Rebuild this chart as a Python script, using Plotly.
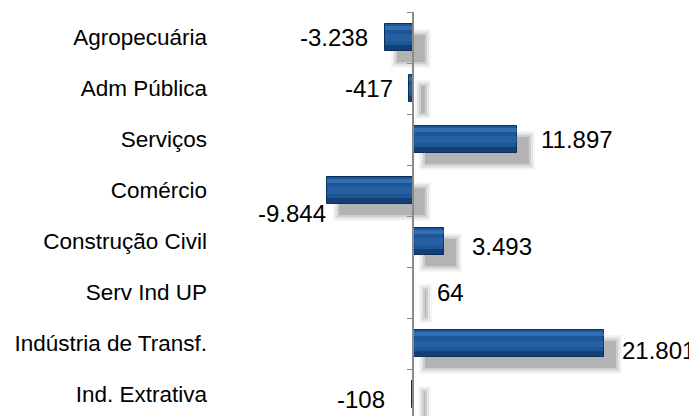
import plotly.graph_objects as go

# ---- data ----
categories = ["Agropecuária", "Adm Pública", "Serviços", "Comércio",
              "Construção Civil", "Serv Ind UP", "Indústria de Transf.", "Ind. Extrativa"]
values = [-3238, -417, 11897, -9844, 3493, 64, 21801, -108]

# ---- style (label offsets in px, not data) ----
label_dx = [-15, -14, 22, 1, 26, 21, 16, -25]
label_dy = [0, 0, 0, -23, -5, 0, -7, -5]

XMIN, XMAX = -23000, 32500
YRANGE = [7.42, -0.5]
BAR_W = 0.53
PLOT_W = 485.0
PX = (XMAX - XMIN) / PLOT_W          # data units per pixel
SH_X = 12 * PX                       # shadow offset (style)
SH_Y = 11 / 51.0

def fmt(v):
    s = f"{abs(v):,}".replace(",", ".")
    return ("-" if v < 0 else "") + s

fig = go.Figure()

# soft, blurred-looking shadow built from stacked translucent layers
for e_px, a in [(6, 0.06), (4, 0.09), (2, 0.13), (0, 0.20)]:
    sgn = [1 if v >= 0 else -1 for v in values]
    ext = e_px * PX
    w = BAR_W + 2 * e_px / 51.0
    fig.add_trace(go.Bar(
        y=categories,
        x=[v + s * 2 * ext for v, s in zip(values, sgn)],
        base=[SH_X - s * ext for s in sgn],
        orientation="h", width=w, offset=-w / 2 + SH_Y,
        marker=dict(color=f"rgba(70,70,70,{a})", line=dict(width=0)),
        hoverinfo="skip", showlegend=False))

# main bars
fig.add_trace(go.Bar(
    y=categories, x=values, orientation="h", width=BAR_W,
    marker=dict(color="#1d5798", line=dict(color="#0c2f5c", width=1)),
    showlegend=False))
# bevel highlights
fig.add_trace(go.Bar(
    y=categories, x=values, orientation="h", width=0.08, offset=-BAR_W / 2 + 0.03,
    marker=dict(color="rgba(80,140,210,0.45)", line=dict(width=0)),
    hoverinfo="skip", showlegend=False))
fig.add_trace(go.Bar(
    y=categories, x=values, orientation="h", width=0.12, offset=-0.06,
    marker=dict(color="rgba(60,120,190,0.30)", line=dict(width=0)),
    hoverinfo="skip", showlegend=False))
fig.add_trace(go.Bar(
    y=categories, x=values, orientation="h", width=0.09, offset=BAR_W / 2 - 0.11,
    marker=dict(color="rgba(8,35,75,0.45)", line=dict(width=0)),
    hoverinfo="skip", showlegend=False))

# invisible trace for the zero axis
fig.add_trace(go.Scatter(y=categories, x=[0] * len(categories), yaxis="y2",
                         mode="markers", marker=dict(opacity=0),
                         hoverinfo="skip", showlegend=False))

for c, v, dx, dy in zip(categories, values, label_dx, label_dy):
    fig.add_annotation(x=v, y=c, text=fmt(v), showarrow=False,
                       xanchor="left" if v >= 0 else "right",
                       xshift=dx, yshift=dy,
                       font=dict(family="Liberation Sans, Arial", size=24, color="#000000"))

# the page body adds an 8px margin, so the figure is 8px smaller than the window
fig.update_layout(
    width=689, height=408,
    margin=dict(l=204, r=0, t=4, b=0),
    paper_bgcolor="white", plot_bgcolor="white",
    barmode="overlay", bargap=0,
    xaxis=dict(range=[XMIN, XMAX], visible=False, domain=[0, 1]),
    yaxis=dict(range=YRANGE, categoryorder="array", categoryarray=categories,
               showline=False, showgrid=False, zeroline=False, ticks="",
               ticklabelstandoff=4,
               tickfont=dict(family="Liberation Sans, Arial", size=22.5, color="#000000")),
    yaxis2=dict(range=YRANGE, categoryorder="array", categoryarray=categories,
                overlaying="y", anchor="free", position=(0 - XMIN) / (XMAX - XMIN),
                side="left", showline=True, linecolor="#8a8a8a", linewidth=1.5,
                ticks="outside", tickson="boundaries", ticklen=5, tickcolor="#8a8a8a",
                tickwidth=1.2, showticklabels=False, showgrid=False, zeroline=False),
    font=dict(family="Liberation Sans, Arial"),
)

fig.write_html("out.html")
